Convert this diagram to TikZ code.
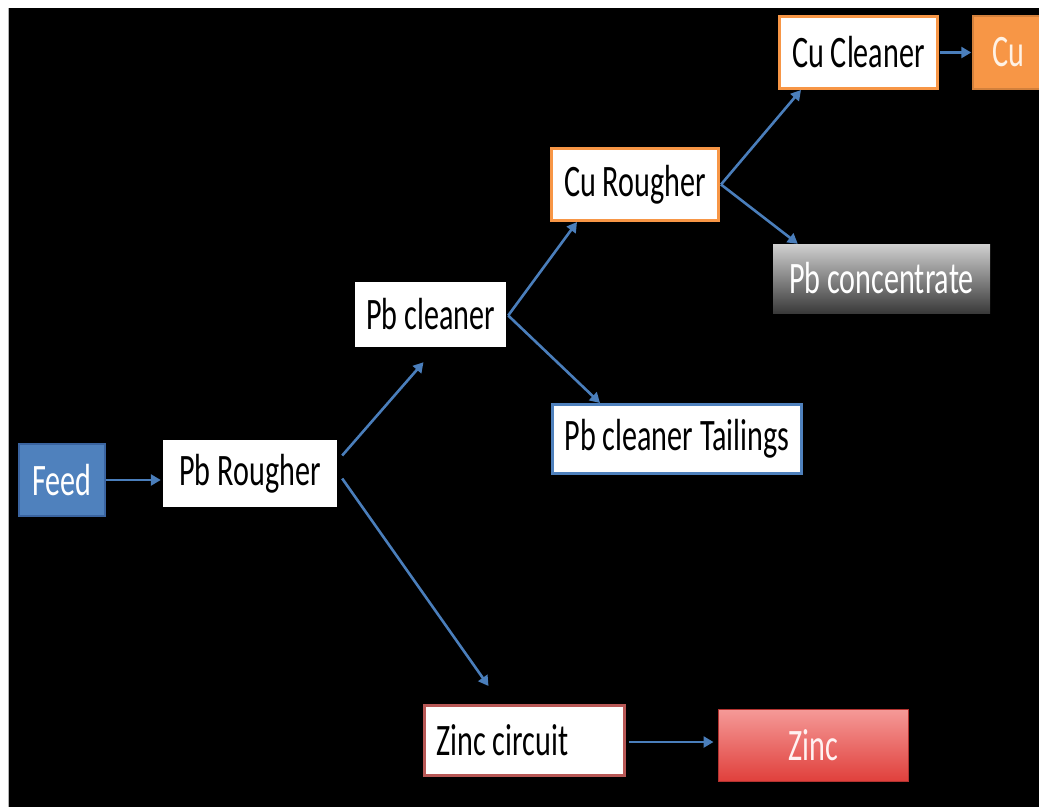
\documentclass[tikz,border=0pt]{standalone}
\usepackage{fontspec}
\newfontfamily\calfont[FakeStretch=0.67]{Carlito}
\usetikzlibrary{arrows.meta,calc}
\definecolor{arrblue}{HTML}{4A7EBB}
\definecolor{feedblue}{HTML}{4F81BD}
\definecolor{feededge}{HTML}{3A64A0}
\definecolor{cuorange}{HTML}{F79646}
\definecolor{zincedge}{HTML}{B85856}
\definecolor{zinctop}{HTML}{F59A98}
\definecolor{zincbot}{HTML}{E0403C}
\definecolor{greytop}{HTML}{D0D0D0}
\definecolor{greybot}{HTML}{3A3A3A}
\tikzset{
  box/.style={rectangle, inner sep=0pt, font=\calfont\fontsize{45}{48}\selectfont, text=black},
  whitebox/.style={box, fill=white},
  arr/.style={draw=arrblue, line width=2.6pt, -{Triangle[length=10pt,width=11pt]}},
}
\begin{document}
\begin{tikzpicture}[x=1pt,y=-1pt]
\useasboundingbox (0,0) rectangle (1039,807);
\fill[white] (0,0) rectangle (1039,807);
\fill[black] (8,8) rectangle (1039,807);
\draw[gray!60, line width=1pt] (8.5,8) -- (8.5,807);

% nodes
\node[box, fill=feedblue, draw=feededge, line width=2pt, text=white, minimum width=86pt, minimum height=72pt] (feed) at (62,480) {Feed};
\node[whitebox, minimum width=174pt, minimum height=67pt] (pbr) at (250,473.5) {Pb Rougher};
\node[whitebox, minimum width=151pt, minimum height=65pt] (pbc) at (430.5,314.5) {Pb cleaner};
\node[whitebox, draw=cuorange, line width=3pt, minimum width=167pt, minimum height=72pt] (cur) at (635,184.5) {Cu Rougher};
\node[whitebox, draw=cuorange, line width=3pt, minimum width=158pt, minimum height=72pt] (cuc) at (858.5,52.5) {Cu Cleaner};
\node[box, fill=cuorange, draw=cuorange!85!black, line width=1.5pt, text=orange!10!white, minimum width=70pt, minimum height=73pt] (cu) at (1008,52.5) {Cu};
\node[box, top color=greytop, bottom color=greybot, text=white, minimum width=217pt, minimum height=69pt] (pbcon) at (881.5,278.5) {Pb concentrate};
\node[whitebox, draw=feedblue, line width=3pt, minimum width=249pt, minimum height=69pt] (pct) at (677,439) {Pb cleaner Tailings};
\node[whitebox, draw=zincedge, line width=3pt, minimum width=200pt, minimum height=70pt] (zc) at (524.5,740.5) {\makebox[176pt][l]{Zinc circuit}};
\node[box, top color=zinctop, bottom color=zincbot, draw=zincbot!80!black, line width=1pt, text=white!95!red, minimum width=190pt, minimum height=72pt] (zn) at (813,745) {Zinc};

% connectors
\draw[arr] (feed.east) -- ($(feed.east -| pbr.west)+(-2,0)$);
\draw[arr] ($(pbr.east)+(5,-18)$) -- ($(pbc.south)+(-7,15)$);
\draw[arr] ($(pbr.east)+(5,5)$) -- ($(zc.north)+(-36,-18)$);
\draw[arr] ($(pbc.east)+(2,1)$) -- ($(cur.south west)+(27,0)$);
\draw[arr] ($(pbc.east)+(2,1)$) -- ($(pct.north west)+(49,0)$);
\draw[arr] ($(cur.east)+(1,0)$) -- ($(cuc.south west)+(23,0)$);
\draw[arr] ($(cur.east)+(1,0)$) -- ($(pbcon.north west)+(25,0)$);
\draw[arr] ($(cuc.east)+(1,0)$) -- ($(cu.west)+(-1,0)$);
\draw[arr] ($(zc.east)+(3,1.5)$) -- ($(zc.east -| zn.west)+(-4,1.5)$);
\end{tikzpicture}
\end{document}
